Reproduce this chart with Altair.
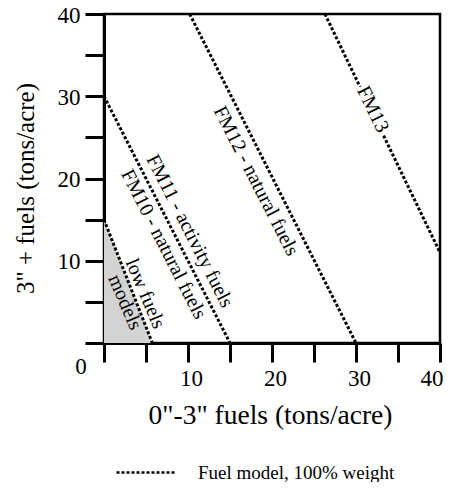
import altair as alt
import pandas as pd

# Boundary lines between fuel models: endpoints in tons/acre
# (x = 0"-3" fuels, y = 3"+ fuels)
line_names = ["low fuels", "FM10/FM11", "FM12", "FM13"]
x_start = [0, 0, 10.2, 26.3]
y_start = [15, 30, 40, 40]
x_end = [5.75, 15, 30, 40]
y_end = [0, 0, 0, 11]

# Line annotations
label_text = ["FM13", "FM12 - natural fuels", "FM11 - activity fuels",
              "FM10 - natural fuels", "low fuels\nmodels"]
label_x = [32.0, 18.1, 10.2, 7.1, 4.9]
label_y = [28.4, 19.7, 13.6, 12.0, 6.0]
label_angle = [64, 63, 63, 63, 67]

axis_values = [0, 5, 10, 15, 20, 25, 30, 35, 40]
legend_label = "Fuel model, 100% weight"
x_title = '0"-3" fuels (tons/acre)'
y_title = '3" + fuels (tons/acre)'

FONT = "Liberation Serif"

lines_df = pd.DataFrame({"name": line_names, "x": x_start, "y": y_start,
                         "x2": x_end, "y2": y_end, "kind": legend_label})
labels_df = pd.DataFrame({"text": label_text, "x": label_x, "y": label_y,
                          "angle": label_angle})
tri_df = pd.DataFrame({"x": [x_start[0], x_end[0]], "y": [y_start[0], y_end[0]]})

xs = alt.Scale(domain=[0, 40], nice=False)
ys = alt.Scale(domain=[0, 40], nice=False)

label_expr = "datum.value % 10 == 0 && datum.value > 0 ? datum.label : ''"
x_axis = alt.Axis(values=axis_values, labelExpr=label_expr, title=x_title,
                  titleX=166, titleY=72, titleAlign="center", labelOffset=3,
                  titleBaseline="middle", titleFontSize=27.5, grid=False)
y_axis = alt.Axis(values=axis_values, labelExpr=label_expr, title=y_title,
                  titleAngle=270, titleX=-79, titleY=174, titleAlign="center",
                  titleBaseline="middle", titleFontSize=25, labelOffset=1,
                  grid=False)

tri = alt.Chart(tri_df).mark_area(color="#d3d3d3", opacity=1).encode(
    x=alt.X("x:Q", scale=xs, axis=x_axis),
    y=alt.Y("y:Q", scale=ys, axis=y_axis),
    y2=alt.datum(0),
)

rules = alt.Chart(lines_df).mark_rule(color="black", strokeWidth=3, strokeCap="butt").encode(
    x=alt.X("x:Q", scale=xs),
    y=alt.Y("y:Q", scale=ys),
    x2="x2:Q",
    y2="y2:Q",
    strokeDash=alt.StrokeDash(
        "kind:N",
        scale=alt.Scale(domain=[legend_label], range=[[3, 2]]),
        legend=alt.Legend(title=None, orient="none", legendX=11, legendY=427,
                          symbolType="stroke", symbolSize=3600,
                          symbolStrokeWidth=2.5, symbolStrokeColor="black",
                          symbolDash=[2.5, 2.5],
                          labelFont=FONT, labelFontSize=19, labelColor="black",
                          labelOffset=20, labelLimit=400),
    ),
)

halo = alt.Chart(labels_df).transform_filter(alt.datum.text == "FM13").mark_text(
    font=FONT, fontSize=20, fill="white", stroke="white", strokeWidth=7,
    align="center", baseline="middle",
).encode(
    x=alt.X("x:Q", scale=xs), y=alt.Y("y:Q", scale=ys), text="text:N",
    angle=alt.Angle("angle:Q", scale=None),
)

texts = alt.Chart(labels_df).mark_text(
    font=FONT, fontSize=20, color="black", align="center", baseline="middle",
    lineBreak="\n", lineHeight=22,
).encode(
    x=alt.X("x:Q", scale=xs), y=alt.Y("y:Q", scale=ys), text="text:N",
    angle=alt.Angle("angle:Q", scale=None),
)

zero = alt.Chart(pd.DataFrame({"v": [0]})).mark_text(
    font=FONT, fontSize=23, color="black", align="center", baseline="middle",
    dx=-23, dy=24,
).encode(x=alt.X("v:Q", scale=xs), y=alt.Y("v:Q", scale=ys), text=alt.value("0"))

chart = alt.layer(tri, rules, halo, texts, zero).properties(
    width=336, height=329,
    autosize=alt.AutoSizeParams(type="none"),
    padding={"left": 96, "top": 6, "right": 11, "bottom": 139},
).configure_view(stroke="black", strokeWidth=2.5).configure_axis(
    domainColor="black", domainWidth=3, tickColor="black", tickWidth=3,
    tickSize=19, labelFont=FONT, labelFontSize=23, labelColor="black",
    labelPadding=5, titleFont=FONT, titleFontSize=26, titleFontWeight="normal",
    titleColor="black",
)

chart.save("out.html", embed_options={"renderer": "svg", "actions": False})
